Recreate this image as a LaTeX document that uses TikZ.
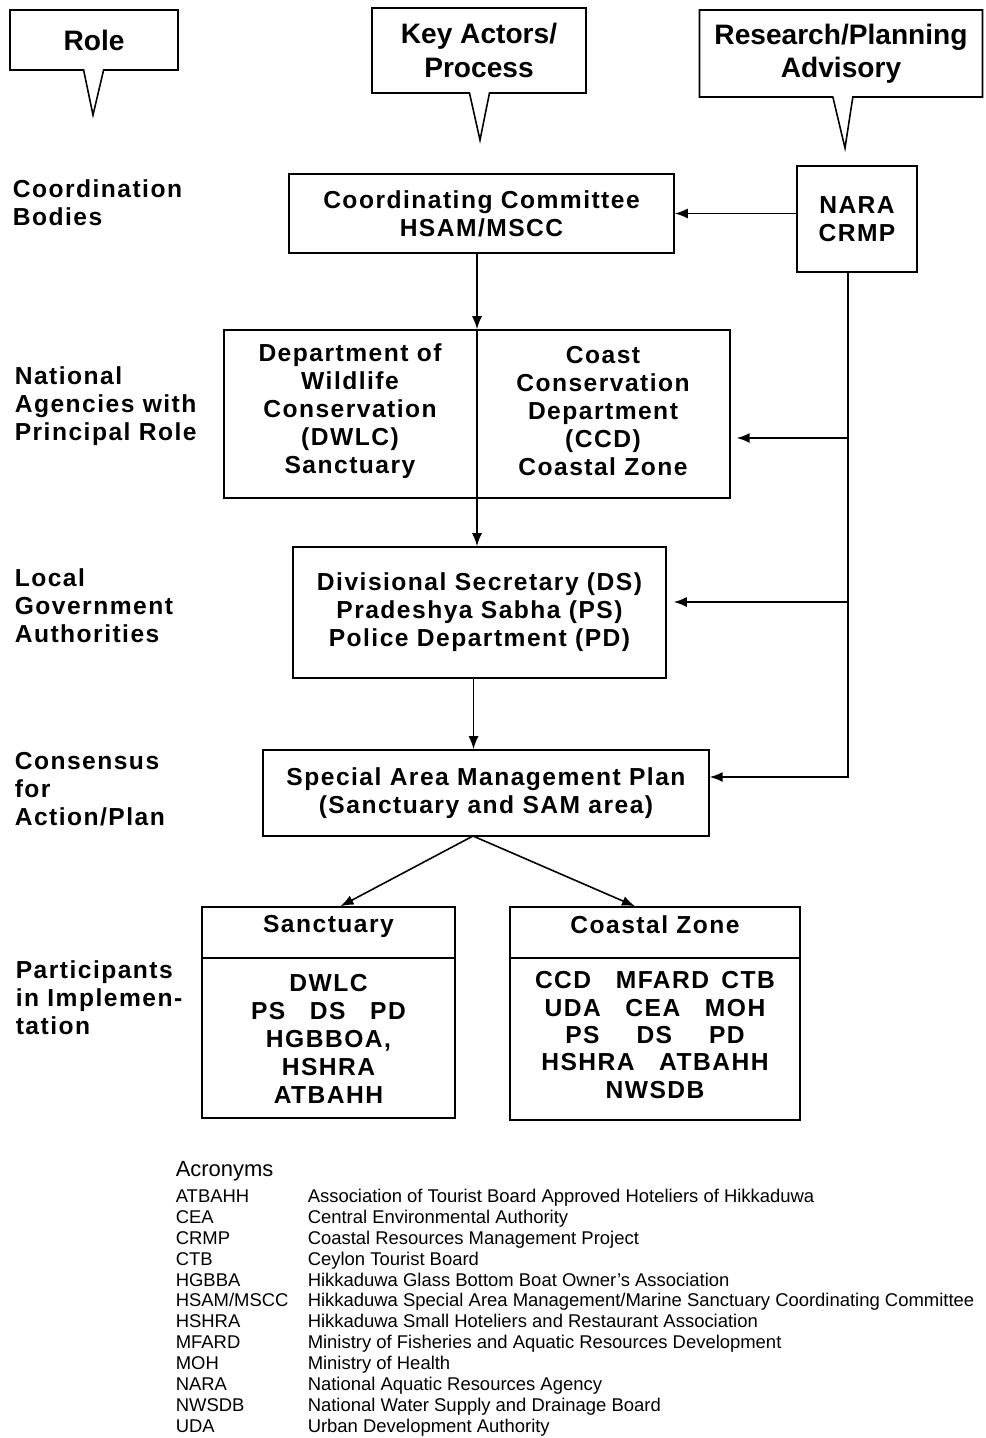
\documentclass[tikz,border=0pt]{standalone}
\usepackage{fontspec}
\setmainfont{Liberation Sans}
\newfontfamily\boxfont[LetterSpace=6]{Liberation Sans}
\usetikzlibrary{shapes.callouts,arrows.meta}

\begin{document}
\begin{tikzpicture}[x=0.02cm,y=-0.02cm,line width=0.9pt,
   >={Latex[length=2.6mm,width=2mm]},
   box/.style={draw,align=center,font=\boxfont\bfseries\fontsize{14}{16}\selectfont},
   btxt/.style={align=center,font=\boxfont\bfseries\fontsize{14}{16}\selectfont},
   rolelbl/.style={anchor=west,align=left,inner sep=0pt,font=\boxfont\bfseries\fontsize{14}{16}\selectfont},
   bubble/.style={rectangle callout,draw,align=center,callout pointer width=0.4cm,
      font=\bfseries\fontsize{16}{19}\selectfont}]
   \useasboundingbox (0,0) rectangle (986,1438) ;
   %\draw[very thin,gray!40,step=50] (0,0) grid (986,1438) ;
   % column heads
   \node[bubble,minimum width=3.36cm,minimum height=1.2cm,
      callout absolute pointer={(93,115)}] (role) at (94,40) {Role} ;
   \node[bubble,minimum width=4.28cm,minimum height=1.7cm,
      callout absolute pointer={(480,140)}] (actors) at (479,50.5) {Key Actors/\\Process} ;
   \node[bubble,minimum width=5.66cm,minimum height=1.74cm,inner sep=1pt,
      callout absolute pointer={(845,148)}] (advisory) at (841,53.5) {Research/Planning\\Advisory} ;
   % roles
   \node[rolelbl] (coordrole) at (12,203) {Coordination\\Bodies} ;
   \node[rolelbl] (natrole) at (14,406) {National\\Agencies with\\Principal Role} ;
   \node[rolelbl] (localrole) at (14,606) {Local\\Government\\Authorities} ;
   \node[rolelbl] (plan) at (14,789) {Consensus\\for\\Action/Plan} ;
   \node[rolelbl] (particip) at (15,998) {Participants\\in Implemen-\\tation} ;
   % actors
   \node[box,minimum width=7.7cm,minimum height=1.58cm] (cc) at (481.5,213.5)
      {Coordinating Committee\\HSAM/MSCC} ;
   \node[box,minimum width=2.4cm,minimum height=2.12cm] (nara) at (857,219) {NARA\\CRMP} ;
   \node[draw,minimum width=10.12cm,minimum height=3.36cm] (natl) at (477,414) {} ;
   \node[btxt] (dwlc) at (350,411) {Department of\\Wildlife\\Conservation\\(DWLC)\\Sanctuary} ;
   \node[btxt] (ccd) at (603,411) {Coast\\Conservation\\Department\\(CCD)\\Coastal Zone} ;
   \node[box,minimum width=7.46cm,minimum height=2.62cm] (local) at (479.5,612.5)
      {Divisional Secretary (DS)\\Pradeshya Sabha (PS)\\Police Department (PD)} ;
   \node[box,minimum width=8.92cm,minimum height=1.72cm] (samp) at (486,793)
      {Special Area Management Plan\\(Sanctuary and SAM area)} ;
   % participants
   \node[draw,minimum width=5.06cm,minimum height=4.22cm] (sanc) at (328.5,1012.5) {} ;
   \node[btxt] (sanctitle) at (328.5,926) {Sanctuary} ;
   \node[btxt] (sancpart) at (328.5,1039) {DWLC\\PS\quad DS\quad PD\\HGBBOA,\\HSHRA\\ATBAHH} ;
   \node[draw,minimum width=5.8cm,minimum height=4.26cm] (coast) at (655,1013.5) {} ;
   \node[btxt] (coasttitle) at (655,925) {Coastal Zone} ;
   \node[btxt,font=\boxfont\bfseries\fontsize{14}{15.6}\selectfont] (coastpart) at (655,1035)
      {CCD\quad MFARD\enspace CTB\\UDA\quad CEA\quad MOH\\PS\quad\enspace DS\quad\enspace PD\\HSHRA\quad ATBAHH\\NWSDB} ;
   \draw (sanc.west |- 0,958) -- (sanc.east |- 0,958) ;
   \draw (coast.west |- 0,958) -- (coast.east |- 0,958) ;
   % flow
   \draw[->] (nara.west |- cc.east) -- (cc.east) ;
   \draw[->] (cc.south -| natl.north) -- (natl.north) ;
   \draw (natl.north) -- (natl.south) ;
   \draw[->] (natl.south) -- (natl.south |- local.north) ;
   \draw[->] ([xshift=-0.12cm]local.south) -- ([xshift=-0.12cm]local.south |- samp.north) ;
   \coordinate (trunk) at (848,777) ;
   \coordinate (tap1) at (848,438) ;
   \coordinate (tap2) at (848,602) ;
   \draw[->] (nara.south -| trunk) -- (trunk) -- (trunk -| samp.east) ;
   \draw[->,shorten >=0.12cm] (tap1) -- (tap1 -| natl.east) ;
   \draw[->,shorten >=0.14cm] (tap2) -- (tap2 -| local.east) ;
   \coordinate (fork) at (473,836) ;
   \draw[->] (fork) -- ([xshift=0.24cm]sanc.north) ;
   \draw[->] (fork) -- ([xshift=-0.4cm]coast.north) ;
   % acronyms
   \node[anchor=west,inner sep=0pt,font=\fontsize{12.5}{14}\selectfont] (acrohead) at (175,1171) {Acronyms} ;
   \node[anchor=north west,inner sep=0pt,font=\fontsize{10.5}{11.9}\selectfont] (acrolist) at (175,1187)
   {\begin{tabular}{@{}p{2.64cm}@{}l@{}}
   ATBAHH & Association of Tourist Board Approved Hoteliers of Hikkaduwa\\
   CEA & Central Environmental Authority\\
   CRMP & Coastal Resources Management Project\\
   CTB & Ceylon Tourist Board\\
   HGBBA & Hikkaduwa Glass Bottom Boat Owner's Association\\
   HSAM/MSCC & Hikkaduwa Special Area Management/Marine Sanctuary Coordinating Committee\\
   HSHRA & Hikkaduwa Small Hoteliers and Restaurant Association\\
   MFARD & Ministry of Fisheries and Aquatic Resources Development\\
   MOH & Ministry of Health\\
   NARA & National Aquatic Resources Agency\\
   NWSDB & National Water Supply and Drainage Board\\
   UDA & Urban Development Authority
   \end{tabular}} ;
\end{tikzpicture}
\end{document}
